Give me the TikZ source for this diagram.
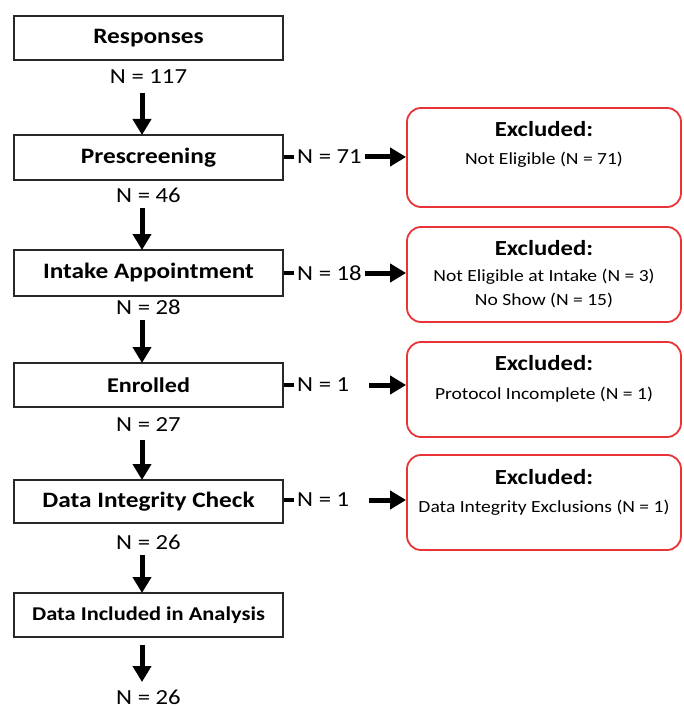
\documentclass[tikz,border=0pt]{standalone}
\usepackage{fontspec}
\setmainfont{Carlito}[FakeStretch=1.15]
\usetikzlibrary{arrows.meta}
\definecolor{exred}{RGB}{232,52,56}
\definecolor{boxline}{RGB}{40,40,40}
\begin{document}
\begin{tikzpicture}[x=1pt,y=-1pt,
  stage/.style={draw=boxline,line width=1.8pt,minimum width=269pt,inner sep=0pt,font=\bfseries\fontsize{22}{24}\selectfont},
  nlab/.style={inner sep=0pt,font=\fontsize{21.5}{24}\selectfont},
  excl/.style={draw=exred,line width=1.8pt,rounded corners=14pt,minimum width=274pt,inner sep=0pt},
  exhead/.style={inner sep=0pt,font=\bfseries\fontsize{21.5}{24}\selectfont},
  exbody/.style={inner sep=0pt,font=\fontsize{17}{20}\selectfont,align=center},
  flow/.style={line width=5pt,-{Triangle[width=18pt,length=16pt]}},
  stub/.style={line width=4.5pt}]
\useasboundingbox (0,0) rectangle (683,711);
% left stages
\node[stage,minimum height=44pt] (s1) at (148.5,38) {Responses};
\node[stage,minimum height=45pt] (s2) at (148.5,157.5) {Prescreening};
\node[stage,minimum height=46pt] (s3) at (148.5,273) {Intake Appointment};
\node[stage,minimum height=44pt,font=\bfseries\fontsize{21}{24}\selectfont] (s4) at (148.5,385) {Enrolled};
\node[stage,minimum height=43pt] (s5) at (148.5,501.5) {Data Integrity Check};
\node[stage,minimum height=44pt,font=\bfseries\fontsize{19.5}{22}\selectfont] (s6) at (148.5,615) {Data Included in Analysis};
% N labels
\node[nlab] (n1) at (148.5,77) {N = 117};
\node[nlab] (n2) at (148.5,195) {N = 46};
\node[nlab] (n3) at (148.5,307) {N = 28};
\node[nlab] (n4) at (148.5,425) {N = 27};
\node[nlab] (n5) at (148.5,542) {N = 26};
\node[nlab] (n6) at (148.5,697) {N = 26};
% arrow endpoints
\coordinate (a1s) at (142,93);  \coordinate (a1e) at (142,135);
\coordinate (a2s) at (142,208); \coordinate (a2e) at (142,250);
\coordinate (a3s) at (142,320); \coordinate (a3e) at (142,363);
\coordinate (a4s) at (142,440); \coordinate (a4e) at (142,480);
\coordinate (a5s) at (142,555); \coordinate (a5e) at (142,593);
\coordinate (a6s) at (142,645); \coordinate (a6e) at (142,682);
\draw[flow] (a1s) -- (a1e);
\draw[flow] (a2s) -- (a2e);
\draw[flow] (a3s) -- (a3e);
\draw[flow] (a4s) -- (a4e);
\draw[flow] (a5s) -- (a5e);
\draw[flow] (a6s) -- (a6e);
% right excluded boxes
\node[excl,minimum height=99pt] (e1) at (544,157.5) {};
\node[excl,minimum height=95pt] (e2) at (544,274.5) {};
\node[excl,minimum height=95pt] (e3) at (544,389.5) {};
\node[excl,minimum height=95pt] (e4) at (544,502.5) {};
\node[exhead] (h1) at (544,129) {Excluded:};
\node[exbody] (b1) at (544,160) {Not Eligible (N = 71)};
\node[exhead] (h2) at (544,248) {Excluded:};
\node[exbody] (b2) at (544,277) {Not Eligible at Intake (N = 3)};
\node[exbody] (b2b) at (544,300) {No Show (N = 15)};
\node[exhead] (h3) at (544,363) {Excluded:};
\node[exbody] (b3) at (544,395) {Protocol Incomplete (N = 1)};
\node[exhead] (h4) at (544,477) {Excluded:};
\node[exbody] (b4) at (544,508) {Data Integrity Exclusions (N = 1)};
% side connectors
\node[nlab,anchor=west] (m1) at (297,157) {N = 71};
\node[nlab,anchor=west] (m2) at (297,273) {N = 18};
\node[nlab,anchor=west] (m3) at (297,385) {N = 1};
\node[nlab,anchor=west] (m4) at (297,500) {N = 1};
\draw[stub] (s2.east |- m1) -- ([xshift=-3pt]m1.west);
\draw[stub] (s3.east |- m2) -- ([xshift=-3pt]m2.west);
\draw[stub] (s4.east |- m3) -- ([xshift=-3pt]m3.west);
\draw[stub] (s5.east |- m4) -- ([xshift=-3pt]m4.west);
\draw[flow] ([xshift=3pt]m1.east) -- (e1.west |- m1);
\draw[flow] ([xshift=3pt]m2.east) -- (e2.west |- m2);
\coordinate (c3) at (369,385);
\coordinate (c4) at (369,500);
\draw[flow] (c3) -- (e3.west |- c3);
\draw[flow] (c4) -- (e4.west |- c4);
\end{tikzpicture}
\end{document}
